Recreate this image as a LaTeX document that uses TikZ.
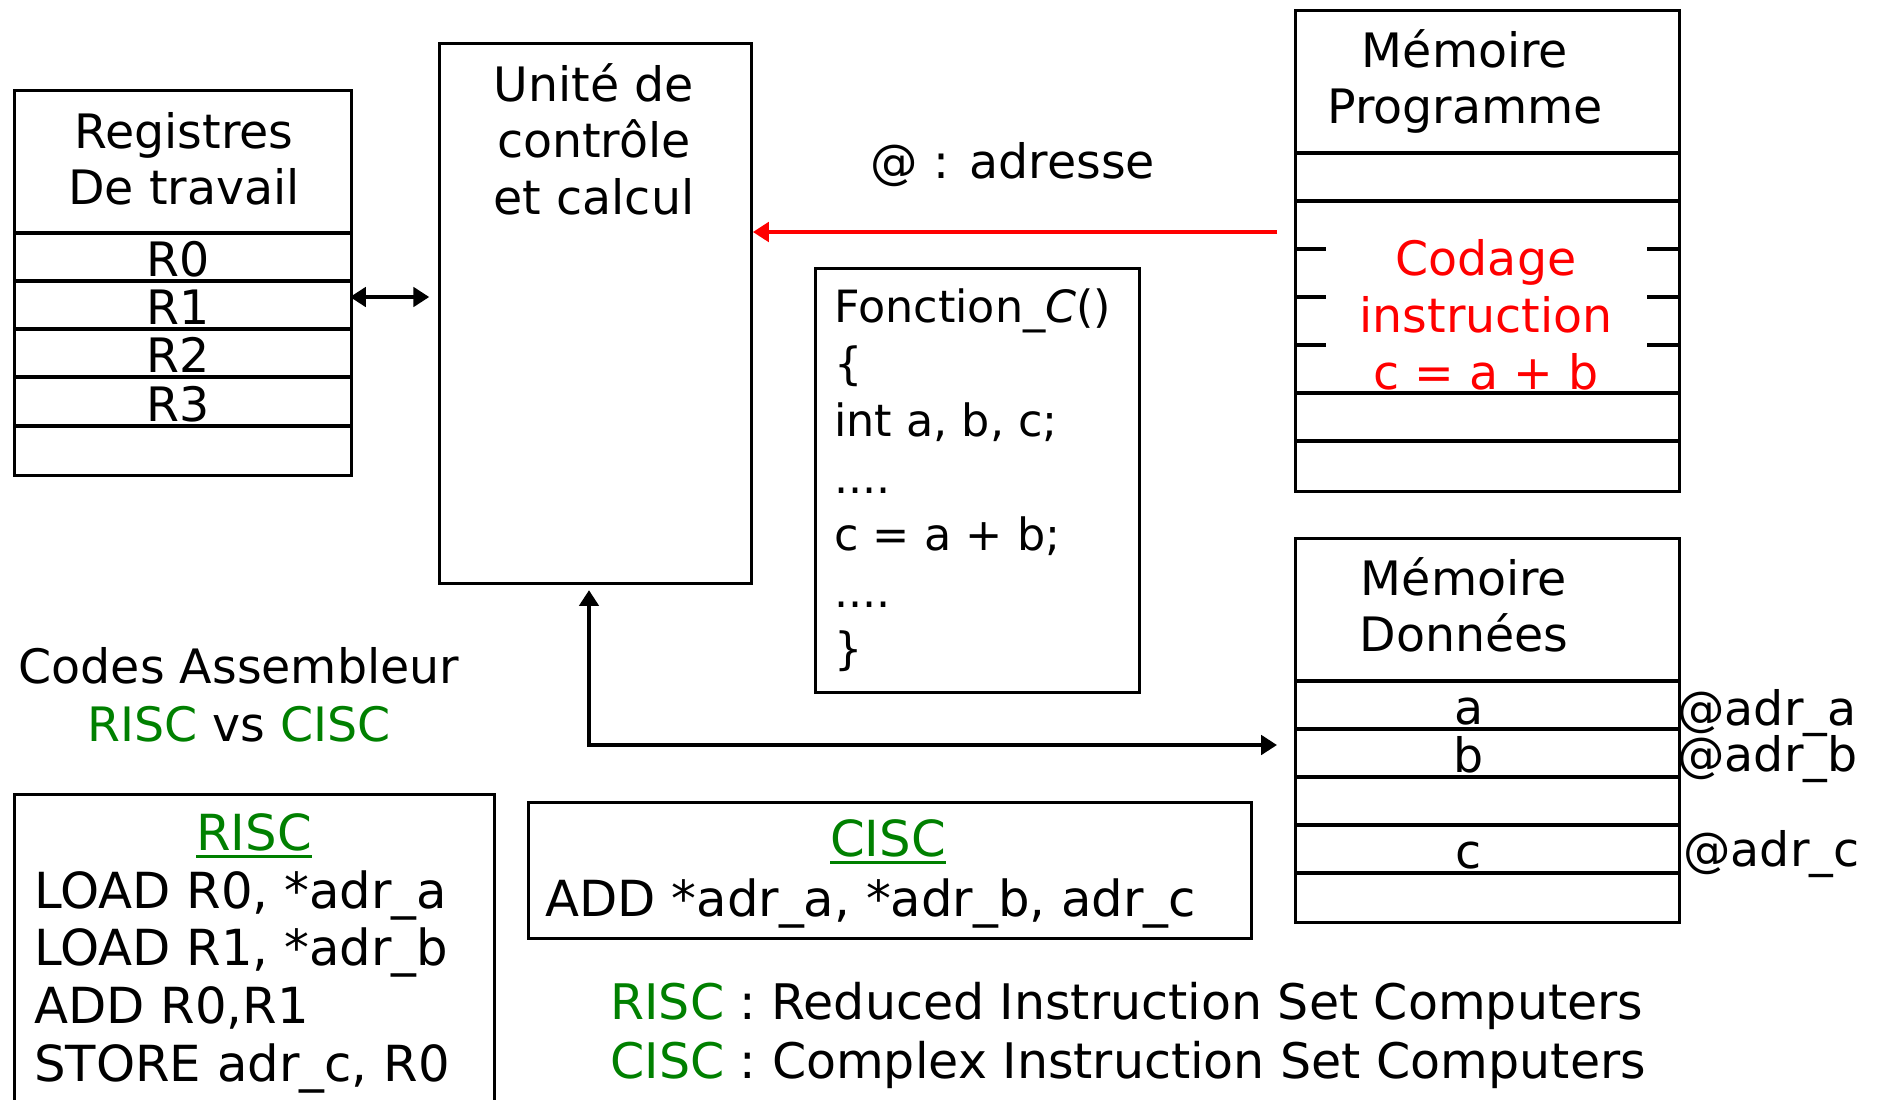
\documentclass[tikz,border=0pt]{standalone}
\usepackage{fontspec}
\setmainfont{DejaVu Sans}
\usetikzlibrary{arrows.meta}
\definecolor{vert}{RGB}{0,128,0}
\definecolor{rouge}{RGB}{255,0,0}
\newcommand\soulign[1]{\setbox0\hbox{#1}\rlap{\rule[-0.16em]{\wd0}{0.06em}}\box0}
\tikzset{
  box/.style={draw, line width=1.7pt, inner sep=0pt, anchor=north west},
  cell/.style={line width=2pt},
  txt/.style={inner sep=0pt, anchor=base, font=\fontsize{27pt}{32pt}\selectfont},
  grand/.style={txt, font=\fontsize{28.3pt}{34pt}\selectfont},
  legende/.style={txt, anchor=base west, font=\fontsize{27.9pt}{34pt}\selectfont},
  code/.style={inner sep=0pt, anchor=base west, font=\fontsize{25.3pt}{30pt}\selectfont},
  fleche/.style={line width=2.1pt, >={Triangle[length=9pt,width=11pt]}},
}

\begin{document}
\begin{tikzpicture}[x=0.02cm, y=-0.02cm]
\useasboundingbox (0,0) rectangle (1885,1099);
% registres
\node[box, minimum width=6.74cm, minimum height=7.7cm] (reg) at (13,89) {};
\node[txt] (reg-t1) at (184,148) {Registres};
\node[txt] (reg-t2) at (184,204) {De travail};
\foreach \y in {233,281,329,377,426}
   \draw[cell] (13,\y) -- (350,\y);
\foreach \y [count=\i from 0] in {276,324,372,421}
   \node[txt] (reg-r\i) at (178,\y) {R\i};
% unite de controle
\node[box, minimum width=6.24cm, minimum height=10.8cm] (ucc) at (438,42) {};
\node[txt] (ucc-t1) at (594,101) {Unité de};
\node[txt] (ucc-t2) at (594,157) {contrôle};
\node[txt] (ucc-t3) at (594,214) {et calcul};
\coordinate (reg-io) at (350,297);
\draw[fleche, <->, shorten >=5pt] (reg-io) -- (ucc.west |- reg-io);
% memoire programme
\node[box, minimum width=7.68cm, minimum height=9.62cm] (mprog) at (1294,9) {};
\node[txt] (mprog-t1) at (1465,67) {Mémoire};
\node[txt] (mprog-t2) at (1465,123) {Programme};
\foreach \y in {153,201,393,441}
   \draw[cell] (1294,\y) -- (1678,\y);
\foreach \y in {249,297,345} {
   \draw[cell] (1294,\y) -- (1326,\y);
   \draw[cell] (1647,\y) -- (1678,\y);
}
\node[txt, text=rouge] (instr-1) at (1486,275) {Codage};
\node[txt, text=rouge] (instr-2) at (1486,332) {instruction};
\node[txt, text=rouge] (instr-3) at (1486,389) {c = a + b};
\coordinate (mprog-out) at (1277,232);
\draw[fleche, rouge, ->] (mprog-out) -- (ucc.east |- mprog-out);
\node[txt] (adr) at (1013,178) {@ : adresse};
% code C
\node[box, minimum width=6.48cm, minimum height=8.48cm] (fct) at (814,267) {};
\node[code] (fct-1) at (834,322) {Fonction\_\textit{C}()};
\node[code] (fct-2) at (834,379) {\{};
\node[code] (fct-3) at (834,436) {int a, b, c;};
\node[code] (fct-4) at (834,493) {....};
\node[code] (fct-5) at (834,550) {c = a + b;};
\node[code] (fct-6) at (834,607) {....};
\node[code] (fct-7) at (834,664) {\}};
% memoire donnees
\node[box, minimum width=7.68cm, minimum height=7.68cm] (mdata) at (1294,537) {};
\node[txt] (mdata-t1) at (1464,595) {Mémoire};
\node[txt] (mdata-t2) at (1464,651) {Données};
\foreach \y in {681,729,777,825,873}
   \draw[cell] (1294,\y) -- (1678,\y);
\node[txt] (var-a) at (1469,724) {a};
\node[txt] (var-b) at (1469,772) {b};
\node[txt] (var-c) at (1469,868) {c};
\node[txt, anchor=base west] (adr-a) at (1677,725) {@adr\_a};
\node[txt, anchor=base west] (adr-b) at (1677,771) {@adr\_b};
\node[txt, anchor=base west] (adr-c) at (1683,866) {@adr\_c};
\coordinate (bus) at (589,745);
\draw[fleche, <->, shorten <=3pt, shorten >=9.7pt] (bus |- ucc.south) -- (bus) -- (mdata.west |- bus);
% assembleur
\node[txt] (asm-1) at (239,683) {Codes Assembleur};
\node[txt] (asm-2) at (239,741) {{\color{vert}RISC} vs {\color{vert}CISC}};
\node[box, minimum width=9.6cm, minimum height=7.2cm] (risc) at (13,793) {};
\node[grand, text=vert] (risc-t) at (254,850) {\soulign{RISC}};
\node[grand, anchor=base west] (risc-1) at (34,908) {LOAD R0, *adr\_a};
\node[grand, anchor=base west] (risc-2) at (34,965) {LOAD R1, *adr\_b};
\node[grand, anchor=base west] (risc-3) at (34,1023) {ADD R0,R1};
\node[grand, anchor=base west] (risc-4) at (34,1081) {STORE adr\_c, R0};
\node[box, minimum width=14.46cm, minimum height=2.72cm] (cisc) at (527,801) {};
\node[grand, text=vert] (cisc-t) at (888,856) {\soulign{CISC}};
\node[grand, anchor=base west] (cisc-1) at (545,916) {ADD *adr\_a, *adr\_b, adr\_c};
% legende
\node[legende] (leg-1) at (610,1019) {{\color{vert}RISC} : Reduced Instruction Set Computers};
\node[legende] (leg-2) at (610,1078) {{\color{vert}CISC} : Complex Instruction Set Computers};
\end{tikzpicture}
\end{document}
